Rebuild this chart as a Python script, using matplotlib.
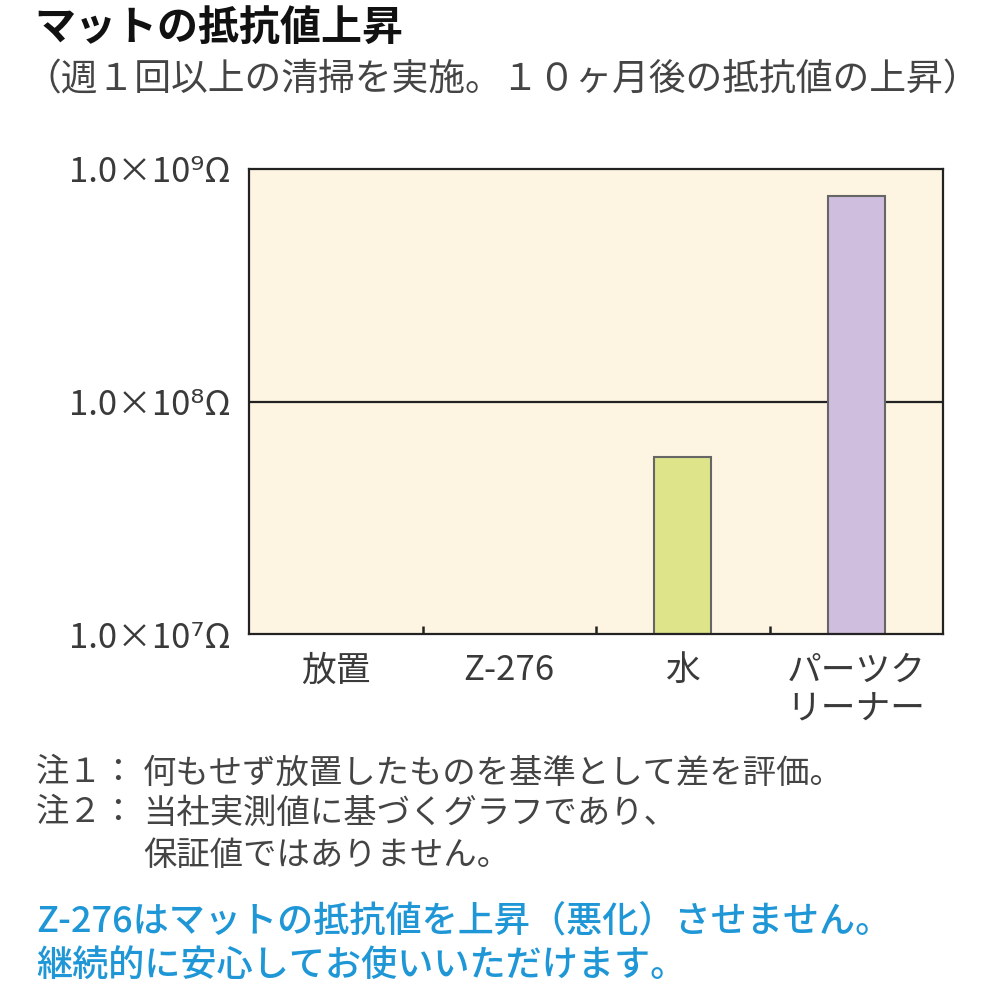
import matplotlib
matplotlib.use("Agg")
import matplotlib.pyplot as plt
import numpy as np
from matplotlib.ticker import FixedLocator, NullLocator

plt.rcParams['font.family'] = ['Noto Sans CJK JP', 'DejaVu Sans']

# ---- data ----
categories = ["放置", "Z-276", "水", "パーツク\nリーナー"]
resistance = [1.0e7, 1.0e7, 5.75e7, 7.65e8]   # Ω after 10 months
bar_colors = ["#DDE48A", "#DDE48A", "#DDE48A", "#D0BEDE"]
ytick_values = [1e7, 1e8, 1e9]
ytick_labels = ["1.0×10⁷Ω", "1.0×10⁸Ω", "1.0×10⁹Ω"]
baseline = 1e7

title = "マットの抵抗値上昇"
subtitle = "（週１回以上の清掃を実施。１０ヶ月後の抵抗値の上昇）"
notes = ["注１：", "注２：", ""]
note_texts = ["何もせず放置したものを基準として差を評価。",
              "当社実測値に基づくグラフであり、",
              "保証値ではありません。"]
blue_lines = ["Z-276はマットの抵抗値を上昇（悪化）させません。",
              "継続的に安心してお使いいただけます。"]

fig = plt.figure(figsize=(10, 10), dpi=100)
fig.patch.set_facecolor("white")

ax = fig.add_axes([0.249, 0.366, 0.694, 0.465])
ax.set_facecolor("#FDF5E1")
ax.set_yscale("log")
ax.set_ylim(1e7, 1e9)
ax.set_xlim(-0.5, len(categories) - 0.5)

x = np.arange(len(categories))
heights = np.array(resistance) - baseline
mask = heights > 0
ax.bar(x[mask], heights[mask], bottom=baseline, width=0.33,
       color=[c for c, m in zip(bar_colors, mask) if m],
       edgecolor="#666666", linewidth=1.5, zorder=3)

ax.axhline(1e8, color="#222222", linewidth=1.6, zorder=2)

ax.yaxis.set_major_locator(FixedLocator(ytick_values))
ax.yaxis.set_minor_locator(NullLocator())
ax.set_yticklabels(ytick_labels, fontsize=25, color="#3a3a3a")
ax.tick_params(axis="y", which="both", length=0, pad=13)

ax.set_xticks(x)
ax.set_xticklabels(categories, fontsize=25, color="#3a3a3a", linespacing=1.15,
                   va="top")
ax.tick_params(axis="x", which="major", length=0, pad=14)
ax.set_xticks(x[:-1] + 0.5, minor=True)
ax.tick_params(axis="x", which="minor", direction="in", length=6, width=1.8,
               color="#222222")

for s in ax.spines.values():
    s.set_color("#222222")
    s.set_linewidth(1.6)
    s.set_zorder(4)

# ---- texts ----
fig.text(0.034, 0.972, title, fontsize=29.5, fontweight="bold", color="#111111",
         va="center", ha="left")
fig.text(0.024, 0.920, subtitle, fontsize=26.5, color="#444444",
         va="center", ha="left")

ys = [0.227, 0.187, 0.145]
for lab, t, yy in zip(notes, note_texts, ys):
    if lab:
        fig.text(0.036, yy, lab, fontsize=24, color="#444444", va="center", ha="left")
    fig.text(0.143, yy, t, fontsize=24, color="#444444", va="center", ha="left")

fig.text(0.036, 0.078, blue_lines[0], fontsize=26, color="#1F97D6",
         va="center", ha="left", fontweight="medium")
fig.text(0.036, 0.034, blue_lines[1], fontsize=26, color="#1F97D6",
         va="center", ha="left", fontweight="medium")

fig.savefig("out.png", dpi=100, facecolor="white")
